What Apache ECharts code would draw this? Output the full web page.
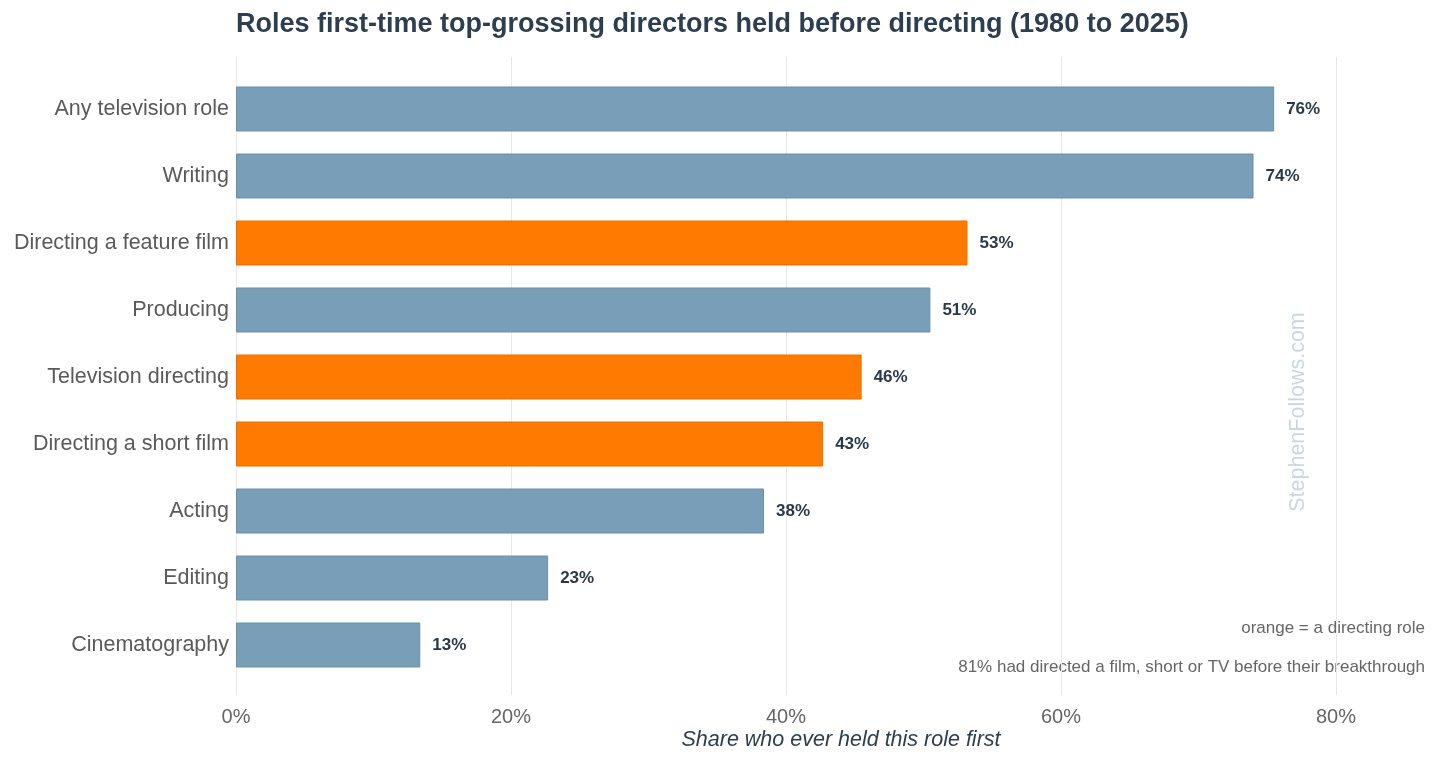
<!DOCTYPE html>
<html>
<head>
<meta charset="utf-8">
<script src="https://cdn.jsdelivr.net/npm/echarts@6/dist/echarts.min.js"></script>
<style>
  html, body { margin: 0; padding: 0; background: #fff; }
  #chart { width: 1456px; height: 763px; }
</style>
</head>
<body>
<div id="chart"></div>
<script>
// roles, top to bottom
var roles = ['Any television role', 'Writing', 'Directing a feature film', 'Producing',
             'Television directing', 'Directing a short film', 'Acting', 'Editing', 'Cinematography'];
var shares = [75.5, 74.0, 53.2, 50.5, 45.5, 42.7, 38.4, 22.7, 13.4];
var isDirecting = [false, false, true, false, true, true, false, false, false];
var xTicks = [0, 20, 40, 60, 80];

var FONT = '"Liberation Sans", Arial, sans-serif';
var BLUE = '#789eb8', ORANGE = '#ff7a00';

var myChart = echarts.init(document.getElementById('chart'));

var barData = shares.map(function (v, i) {
    return {
        value: v,
        itemStyle: {
            color: isDirecting[i] ? ORANGE : BLUE,
            borderColor: isDirecting[i] ? '#e86e00' : '#6a8fa8',
            borderWidth: 1
        }
    };
});

var option = {
    backgroundColor: '#fff',
    animation: false,
    title: {
        text: 'Roles first-time top-grossing directors held before directing (1980 to 2025)',
        left: 231,
        top: 6,
        textStyle: { fontFamily: FONT, fontSize: 27, fontWeight: 'bold', color: '#2e3e4e' }
    },
    grid: [
        { left: 236, right: 120, top: 75.5, bottom: 84.5 },   // bars
        { left: 236, right: 120, top: 57, bottom: 68 }        // split lines + ticks
    ],
    xAxis: [
        {
            type: 'value', gridIndex: 0, min: xTicks[0], max: xTicks[xTicks.length - 1], interval: 20,
            show: false
        },
        {
            type: 'value', gridIndex: 1, min: xTicks[0], max: xTicks[xTicks.length - 1], interval: 20,
            axisLine: { show: false },
            axisTick: { show: false },
            axisLabel: {
                formatter: '{value}%', fontFamily: FONT, fontSize: 20, color: '#666', margin: 12
            },
            splitLine: { show: true, lineStyle: { color: '#e8e8e8', width: 1 } }
        }
    ],
    yAxis: [
        {
            type: 'category', gridIndex: 0, data: roles, inverse: true,
            axisLine: { show: false },
            axisTick: { show: false },
            axisLabel: { fontFamily: FONT, fontSize: 21.5, color: '#5a5a5a', margin: 7, padding: [4, 0, 0, 0] }
        },
        {
            type: 'value', gridIndex: 1, show: false
        }
    ],
    series: [
        {
            type: 'bar',
            xAxisIndex: 0,
            yAxisIndex: 0,
            data: barData,
            barWidth: 45,
            label: {
                show: true,
                position: 'right',
                distance: 12,
                padding: [2, 0, 0, 0],
                formatter: function (p) { return Math.round(p.value) + '%'; },
                fontFamily: FONT, fontSize: 17, fontWeight: 'bold', color: '#2b3a47'
            }
        }
    ],
    graphic: [
        {
            type: 'text', x: 841, y: 740,
            style: {
                text: 'Share who ever held this role first', fontFamily: FONT, fontSize: 21.5,
                fontStyle: 'italic', fill: '#2e3e4e', textAlign: 'center', textVerticalAlign: 'middle'
            }
        },
        {
            type: 'text', x: 1298, y: 412, rotation: Math.PI / 2,
            style: {
                text: 'StephenFollows.com', fontFamily: FONT, fontSize: 21.5,
                fill: '#c9d7e1', textAlign: 'center', textVerticalAlign: 'middle'
            }
        },
        {
            type: 'text', x: 1425, y: 628,
            style: {
                text: 'orange = a directing role', fontFamily: FONT, fontSize: 17,
                fill: '#666', textAlign: 'right', textVerticalAlign: 'middle'
            }
        },
        {
            type: 'text', x: 1425, y: 667,
            style: {
                text: '81% had directed a film, short or TV before their breakthrough', fontFamily: FONT, fontSize: 17,
                fill: '#666', textAlign: 'right', textVerticalAlign: 'middle'
            }
        }
    ]
};

myChart.setOption(option);
</script>
</body>
</html>
